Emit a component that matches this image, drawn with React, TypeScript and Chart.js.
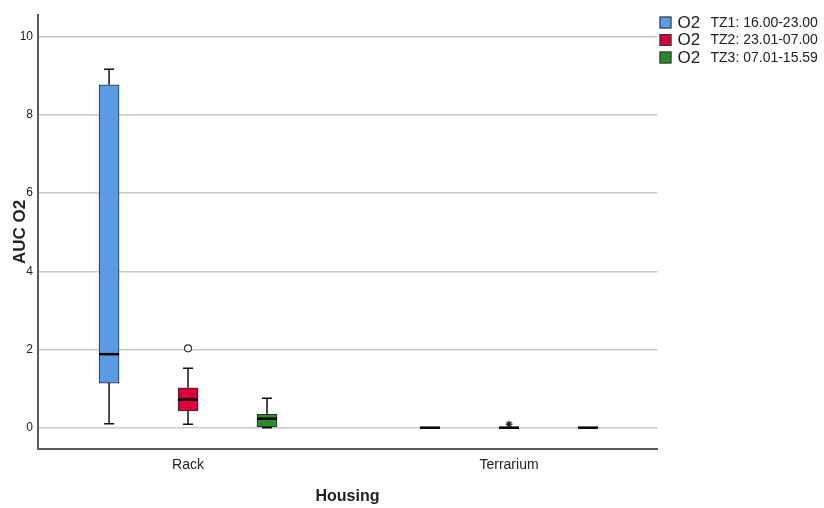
import React, { useEffect, useRef } from 'react';
import { Chart, registerables } from 'chart.js';

Chart.register(...registerables);

// ---- Data ----
const categories = ['Rack', 'Terrarium'];
const seriesPrefix = 'O2';
const seriesLabels = ['TZ1: 16.00-23.00', 'TZ2: 23.01-07.00', 'TZ3: 07.01-15.59'];
const yTickValues = [0, 2, 4, 6, 8, 10];

// TZ1 (blue)
const tz1Min = [0.10, 0.0];
const tz1Q1 = [1.14, 0.0];
const tz1Median = [1.88, 0.0];
const tz1Q3 = [8.77, 0.0];
const tz1Max = [9.17, 0.0];

// TZ2 (red)
const tz2Min = [0.09, 0.0];
const tz2Q1 = [0.43, 0.0];
const tz2Median = [0.72, 0.0];
const tz2Q3 = [1.02, 0.0];
const tz2Max = [1.52, 0.0];
const tz2Outliers = [[2.03], []];
const tz2Extremes = [[], [0.09]];

// TZ3 (green)
const tz3Min = [0.0, 0.0];
const tz3Q1 = [0.02, 0.0];
const tz3Median = [0.23, 0.0];
const tz3Q3 = [0.34, 0.0];
const tz3Max = [0.75, 0.0];

// ---- Styling / layout ----
const seriesColors = ['#5b9be6', '#d9003a', '#2b8a2b'];
const groupOffsets = [-0.246, 0, 0.246];
const TEXT = '#222222';
const FONT = '"Liberation Sans", Arial, sans-serif';

const series = [
  { min: tz1Min, q1: tz1Q1, median: tz1Median, q3: tz1Q3, max: tz1Max },
  { min: tz2Min, q1: tz2Q1, median: tz2Median, q3: tz2Q3, max: tz2Max },
  { min: tz3Min, q1: tz3Q1, median: tz3Median, q3: tz3Q3, max: tz3Max },
];

const whiskerPlugin = {
  id: 'whiskers',
  afterDatasetsDraw(chart: any) {
    const { ctx } = chart;
    const xs = chart.scales.x;
    const ys = chart.scales.y;
    ctx.save();
    series.forEach((s, si) => {
      categories.forEach((_, ci) => {
        const x = xs.getPixelForValue(ci + groupOffsets[si]);
        const yMin = ys.getPixelForValue(s.min[ci]);
        const yQ1 = ys.getPixelForValue(s.q1[ci]);
        const yMed = ys.getPixelForValue(s.median[ci]);
        const yQ3 = ys.getPixelForValue(s.q3[ci]);
        const yMax = ys.getPixelForValue(s.max[ci]);
        ctx.strokeStyle = '#111';
        ctx.lineWidth = 1.5;
        ctx.beginPath();
        if (yQ3 - yMax > 0.5) {
          ctx.moveTo(x, yQ3);
          ctx.lineTo(x, yMax);
          ctx.moveTo(x - 5, yMax);
          ctx.lineTo(x + 5, yMax);
        }
        if (yMin - yQ1 > 0.5) {
          ctx.moveTo(x, yQ1);
          ctx.lineTo(x, yMin);
          ctx.moveTo(x - 5, yMin);
          ctx.lineTo(x + 5, yMin);
        }
        ctx.stroke();
        ctx.lineWidth = 2.5;
        ctx.strokeStyle = '#000';
        ctx.beginPath();
        ctx.moveTo(x - 10, yMed);
        ctx.lineTo(x + 10, yMed);
        ctx.stroke();
      });
    });
    ctx.restore();
  },
};

const legendPlugin = {
  id: 'customLegend',
  afterDraw(chart: any) {
    const { ctx, chartArea } = chart;
    const x0 = chartArea.right + 2;
    const y0 = chartArea.top + 1.5;
    ctx.save();
    seriesLabels.forEach((lab, i) => {
      const top = y0 + i * 17.5;
      ctx.fillStyle = seriesColors[i];
      ctx.fillRect(x0, top, 12, 12);
      ctx.strokeStyle = '#333';
      ctx.lineWidth = 1;
      ctx.strokeRect(x0 + 0.5, top + 0.5, 11, 11);
      ctx.fillStyle = TEXT;
      ctx.textBaseline = 'middle';
      ctx.textAlign = 'left';
      ctx.font = `17px ${FONT}`;
      ctx.fillText(seriesPrefix, x0 + 18, top + 6.5);
      ctx.font = `14px ${FONT}`;
      ctx.fillText(lab, x0 + 51, top + 6.5);
    });
    ctx.restore();
  },
};

export default function App() {
  const ref = useRef<HTMLCanvasElement | null>(null);

  useEffect(() => {
    if (!ref.current) return;

    const boxDatasets = series.map((s, si) => ({
      type: 'bar' as const,
      label: `${seriesPrefix} ${seriesLabels[si]}`,
      data: categories.map((_, ci) => ({ x: ci + groupOffsets[si], y: [s.q1[ci], s.q3[ci]] })),
      backgroundColor: seriesColors[si],
      borderColor: '#2a2a2a',
      borderWidth: 1,
      borderSkipped: false,
      barThickness: 20,
      grouped: false,
    }));

    const outlierData: any[] = [];
    tz2Outliers.forEach((vals, ci) => vals.forEach((v) => outlierData.push({ x: ci + groupOffsets[1], y: v })));
    const extremeData: any[] = [];
    tz2Extremes.forEach((vals, ci) => vals.forEach((v) => extremeData.push({ x: ci + groupOffsets[1], y: v })));

    const chart = new Chart(ref.current, {
      type: 'bar',
      data: {
        datasets: [
          ...boxDatasets,
          {
            type: 'scatter' as const,
            label: 'outliers',
            data: outlierData,
            pointStyle: 'circle',
            pointRadius: 3.5,
            backgroundColor: '#ffffff',
            borderColor: '#333',
            borderWidth: 1.2,
          },
          {
            type: 'scatter' as const,
            label: 'extremes',
            data: extremeData,
            pointStyle: 'star',
            pointRadius: 3.5,
            backgroundColor: '#222',
            borderColor: '#222',
            borderWidth: 1.2,
          },
        ] as any,
      },
      options: {
        animation: false,
        responsive: false,
        devicePixelRatio: 1,
        layout: { padding: { left: 7.5, right: 166.5, top: 15, bottom: 0 } },
        plugins: {
          legend: { display: false },
          tooltip: { enabled: false },
        },
        scales: {
          x: {
            type: 'linear',
            min: -0.469,
            max: 1.4626,
            offset: false,
            grid: { display: false, offset: false, drawTicks: false },
            border: { display: true, color: '#5a5a5a', width: 2 },
            afterBuildTicks: (scale: any) => {
              scale.ticks = categories.map((_, i) => ({ value: i }));
            },
            afterFit: (scale: any) => {
              scale.height = 59;
            },
            ticks: {
              autoSkip: false,
              maxRotation: 0,
              padding: 8,
              color: TEXT,
              font: { family: FONT, size: 14 },
              callback: (v: any) => categories[Number(v)] ?? '',
            },
            title: {
              display: true,
              text: 'Housing',
              color: TEXT,
              font: { family: FONT, size: 16, weight: 'bold' },
              padding: { top: 0, bottom: 2 },
            },
          },
          y: {
            type: 'linear',
            min: -0.545,
            max: 10.555,
            grid: { color: '#c8c8c8', lineWidth: 1.5, drawTicks: false },
            border: { display: true, color: '#5a5a5a', width: 2 },
            afterBuildTicks: (scale: any) => {
              scale.ticks = yTickValues.map((v) => ({ value: v }));
            },
            afterFit: (scale: any) => {
              scale.width = 30;
            },
            ticks: {
              padding: 4.5,
              color: TEXT,
              font: { family: FONT, size: 12 },
              callback: (v: any) => String(v),
            },
            title: {
              display: true,
              text: 'AUC O2',
              color: TEXT,
              font: { family: FONT, size: 17, weight: 'bold' },
              padding: { top: 2.5, bottom: 0 },
            },
          },
        },
      } as any,
      plugins: [whiskerPlugin, legendPlugin],
    });

    return () => chart.destroy();
  }, []);

  return (
    <div style={{ position: 'absolute', left: 0, top: 0, width: 824, height: 508, background: '#fff' }}>
      <canvas ref={ref} width={824} height={508} style={{ display: 'block' }} />
    </div>
  );
}
